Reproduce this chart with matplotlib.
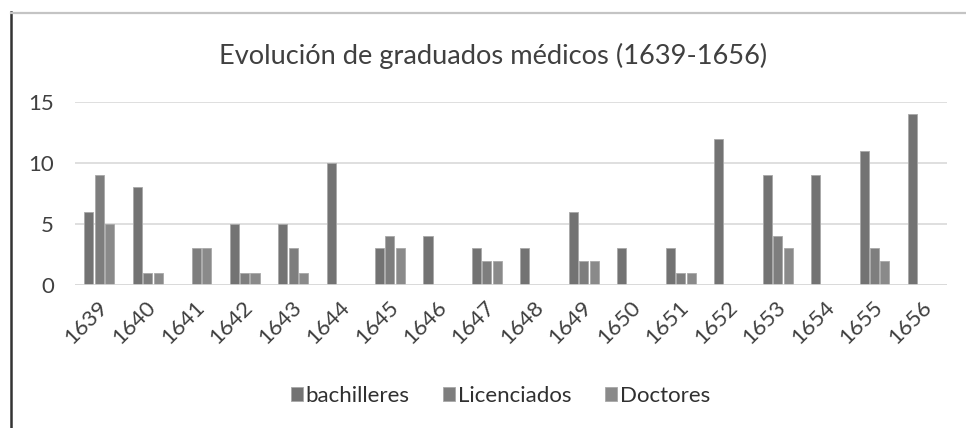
import matplotlib.pyplot as plt
import matplotlib.transforms as mtransforms
from matplotlib.lines import Line2D
import numpy as np

years = ["1639", "1640", "1641", "1642", "1643", "1644", "1645", "1646", "1647",
         "1648", "1649", "1650", "1651", "1652", "1653", "1654", "1655", "1656"]
bachilleres = [6, 8, 0, 5, 5, 10, 3, 4, 3, 3, 6, 3, 3, 12, 9, 9, 11, 14]
licenciados = [9, 1, 3, 1, 3, 0, 4, 0, 2, 0, 2, 0, 1, 0, 4, 0, 3, 0]
doctores = [5, 1, 3, 1, 1, 0, 3, 0, 2, 0, 2, 0, 1, 0, 3, 0, 2, 0]

plt.rcParams['font.family'] = ['Lato', 'DejaVu Sans']

fig = plt.figure(figsize=(9.66, 4.28), dpi=100)
ax = fig.add_axes([0.0776, 0.334, 0.903, 0.428])

x = np.arange(len(years))
w = 0.186
off = 0.215
series = [
    (bachilleres, "bachilleres", "#737373", -off),
    (licenciados, "Licenciados", "#7e7e7e", 0),
    (doctores, "Doctores", "#8a8a8a", off),
]
for vals, name, col, dx in series:
    ax.bar(x + dx, vals, width=w, color=col, edgecolor="#a8a8a8",
           linewidth=0.6, label=name, zorder=3)

ax.set_xlim(-0.5, len(years) - 0.5)
ax.set_ylim(0, 15)
ax.set_yticks([0, 5, 10, 15])
ax.yaxis.grid(True, color="#d9d9d9", linewidth=1.2, zorder=0)
for s in ax.spines.values():
    s.set_visible(False)
ax.axhline(0, color="#d9d9d9", linewidth=1.2, zorder=4)
ax.tick_params(axis="both", length=0, labelsize=16, labelcolor="#404040")
ax.tick_params(axis="y", pad=15)
ax.set_xticks(x)
ax.set_xticklabels(years, rotation=45, ha="right", rotation_mode="anchor")
ax.tick_params(axis="x", pad=9)
shift = mtransforms.ScaledTranslation(-2 / 100, 0, fig.dpi_scale_trans)
for lab in ax.get_xticklabels():
    lab.set_transform(lab.get_transform() + shift)

fig.text(0.51, 0.87, "Evolución de graduados médicos (1639-1656)",
         ha="center", va="center", fontsize=19.6, color="#404040")

fig.legend(loc="center", bbox_to_anchor=(0.518, 0.075), ncol=3, frameon=False,
           fontsize=16, handlelength=0.55, handleheight=0.55, handletextpad=0.12,
           columnspacing=1.5, labelcolor="#303030")

# frame lines of the screenshot
fig.add_artist(Line2D([11 / 966, 11 / 966], [0, 1 - 12 / 428],
                      transform=fig.transFigure, color="#333333", linewidth=1.8))
fig.add_artist(Line2D([11 / 966, 1], [1 - 13 / 428, 1 - 13 / 428],
                      transform=fig.transFigure, color="#c4c4c4", linewidth=1.6))

fig.savefig("out.png", dpi=100)
